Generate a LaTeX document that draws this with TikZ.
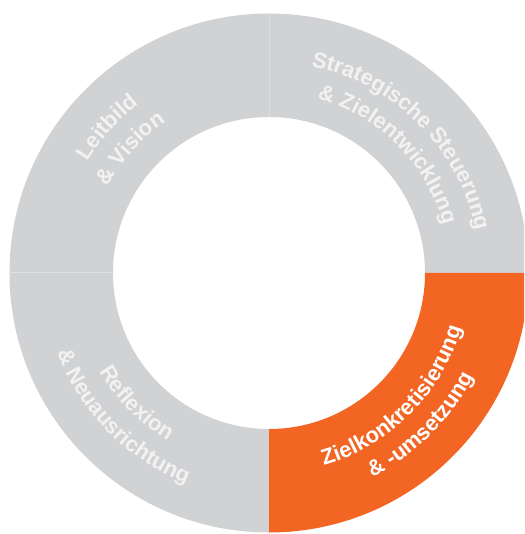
\documentclass[tikz,border=0pt]{standalone}
\usepackage{fontspec}
\setmainfont{Liberation Sans}
\usetikzlibrary{decorations.text}
\definecolor{ringgray}{RGB}{209,210,212}
\definecolor{ringorange}{RGB}{242,101,34}
\definecolor{graytext}{RGB}{242,242,243}
\definecolor{ringline}{RGB}{222,223,225}
\newcommand{\ringfont}{\bfseries\fontsize{22}{26}\selectfont}

\begin{document}
\begin{tikzpicture}[
    x=1pt, y=1pt,
    segment/.style={fill=ringgray},
    divider/.style={draw=ringline, line width=1pt},
    curved/.style={decorate, decoration={text along path, text align=center, text color=graytext, text={#1}}},
    curvedwhite/.style={decorate, decoration={text along path, text align=center, text color=white, text={#1}}}
]
\useasboundingbox (-269,-261) rectangle (255,273);
\clip (-269,-261) rectangle (255,273);
% Ring quadrants
\foreach \a in {0,90,180}
  \fill[segment] (\a:156) arc[start angle=\a, end angle=\a+90, radius=156]
    -- (\a+90:259.5) arc[start angle=\a+90, end angle=\a, radius=259.5] -- cycle;
\fill[ringorange] (270:156) arc[start angle=270, end angle=360, radius=156]
  -- (0:259.5) arc[start angle=360, end angle=270, radius=259.5] -- cycle;
% Thin dividers between gray quadrants
\draw[divider] (90:156) -- (90:259.5);
\draw[divider] (180:156) -- (180:259.5);
% --- Top right ---
\path[curved={|\ringfont|Strategische Steuerung}] (105:211) arc[start angle=105, end angle=-15, radius=211];
\path[curved={|\ringfont|{\&} Zielentwicklung}] (105:181) arc[start angle=105, end angle=-15, radius=181];
% --- Top left ---
\path[curved={|\ringfont|Leitbild}] (198:213) arc[start angle=198, end angle=78, radius=213];
\path[curved={|\ringfont|{\&} Vision}] (198:183) arc[start angle=198, end angle=78, radius=183];
% --- Bottom left ---
\path[curved={|\ringfont|Reflexion}] (164.5:196) arc[start angle=164.5, end angle=284.5, radius=196];
\path[curved={|\ringfont|{\&} Neuausrichtung}] (164.5:226) arc[start angle=164.5, end angle=284.5, radius=226];
% --- Bottom right ---
\path[curvedwhite={|\ringfont|Zielkonkretisierung}] (-105:200) arc[start angle=-105, end angle=15, radius=200];
\path[curvedwhite={|\ringfont|{\&} -umsetzung}] (-105:229) arc[start angle=-105, end angle=15, radius=229];
\end{tikzpicture}
\end{document}
